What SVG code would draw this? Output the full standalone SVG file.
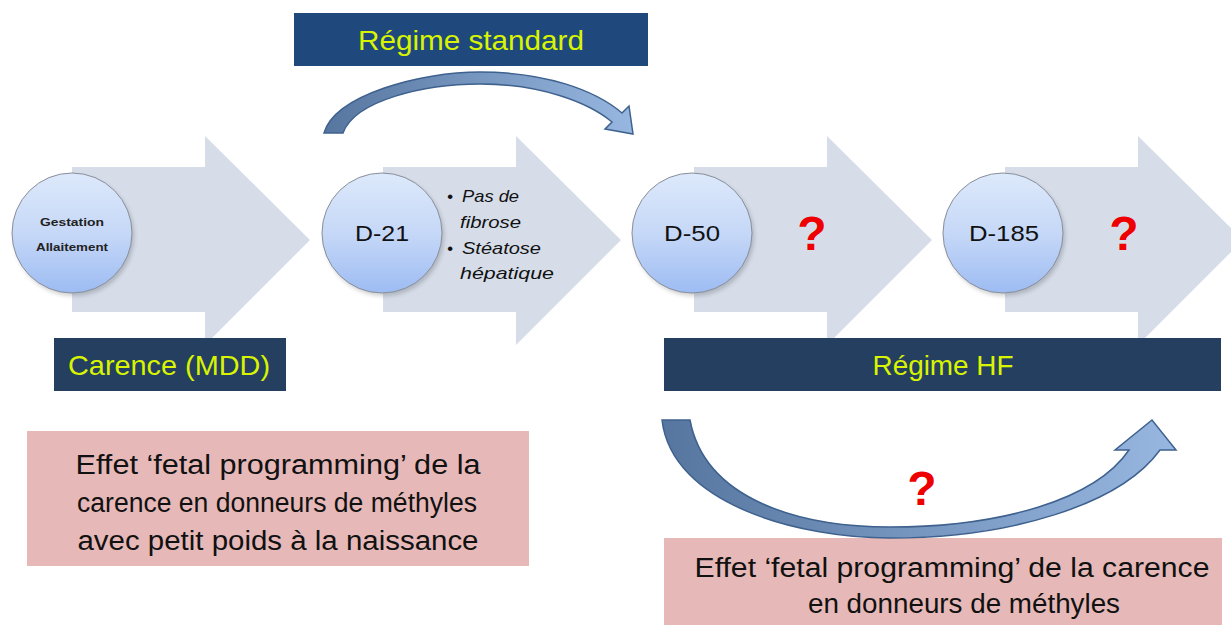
<svg xmlns="http://www.w3.org/2000/svg" width="1231" height="625" viewBox="0 0 1231 625">
<defs>
<style>
.big{fill:#d6dde9}
.circ{fill:url(#cg);stroke:#8a8f99;stroke-width:1}
.shadow{fill:#000;opacity:0.18}
.dark1{fill:#1f497d}
.dark2{fill:#243f60}
.pink{fill:#e6b9b8}
.ylw{font-family:"Liberation Sans",Arial,sans-serif;font-size:28px;fill:#d8f400;text-anchor:middle}
.blk{font-family:"Liberation Sans",Arial,sans-serif;font-size:27px;fill:#111;text-anchor:middle}
.lbl{font-family:"Liberation Sans",Arial,sans-serif;font-size:22px;fill:#111;text-anchor:middle}
.small{font-family:"Liberation Sans",Arial,sans-serif;font-size:11px;font-weight:bold;fill:#222;text-anchor:middle}
.it{font-family:"Liberation Sans",Arial,sans-serif;font-size:17px;font-style:italic;fill:#111}
.q{font-family:"Liberation Sans",Arial,sans-serif;font-size:48px;font-weight:bold;fill:#ee0000;text-anchor:middle}
.carrow{stroke:#3e618e;stroke-width:1.5;stroke-linejoin:miter}
</style>
<linearGradient id="cg" x1="0" y1="0" x2="0" y2="1">
<stop offset="0" stop-color="#dde9fb"/>
<stop offset="0.5" stop-color="#c6d8f7"/>
<stop offset="1" stop-color="#9dbcf3"/>
</linearGradient>
<linearGradient id="ag" x1="0" y1="0" x2="1" y2="0">
<stop offset="0" stop-color="#56769f"/>
<stop offset="1" stop-color="#97b7e1"/>
</linearGradient>
<filter id="sh" x="-20%" y="-20%" width="140%" height="140%">
<feGaussianBlur stdDeviation="2"/>
</filter>
</defs>

<g id="big-arrows">
<polygon class="big" points="72,167 205,167 205,136 310,240 205,345 205,312 72,312"/>
<polygon class="big" points="383,167 516,167 516,136 621,240 516,345 516,312 383,312"/>
<polygon class="big" points="694,167 827,167 827,136 932,240 827,345 827,312 694,312"/>
<polygon class="big" points="1005,167 1138,167 1138,136 1243,240 1138,345 1138,312 1005,312"/>
</g>

<g id="node-gestation">
<circle class="shadow" cx="74" cy="236" r="60" filter="url(#sh)"/>
<circle class="circ" cx="72" cy="233" r="60"/>
<text class="small" x="72" y="226" textLength="64" lengthAdjust="spacingAndGlyphs">Gestation</text>
<text class="small" x="72" y="251" textLength="72" lengthAdjust="spacingAndGlyphs">Allaitement</text>
</g>

<g id="node-d21">
<circle class="shadow" cx="384" cy="236" r="60" filter="url(#sh)"/>
<circle class="circ" cx="382" cy="233" r="60"/>
<text class="lbl" x="382" y="241" textLength="54" lengthAdjust="spacingAndGlyphs">D-21</text>
</g>

<g id="node-d21-notes">
<text class="it" x="447" y="202">•</text>
<text class="it" x="462" y="202" textLength="57" lengthAdjust="spacingAndGlyphs">Pas de</text>
<text class="it" x="460" y="228" textLength="61" lengthAdjust="spacingAndGlyphs">fibrose</text>
<text class="it" x="447" y="254">•</text>
<text class="it" x="462" y="254" textLength="79" lengthAdjust="spacingAndGlyphs">Stéatose</text>
<text class="it" x="460" y="279" textLength="94" lengthAdjust="spacingAndGlyphs">hépatique</text>
</g>

<g id="node-d50">
<circle class="shadow" cx="694" cy="236" r="60" filter="url(#sh)"/>
<circle class="circ" cx="692" cy="233" r="60"/>
<text class="lbl" x="692" y="241" textLength="56" lengthAdjust="spacingAndGlyphs">D-50</text>
<text class="q" x="812" y="250">?</text>
</g>

<g id="node-d185">
<circle class="shadow" cx="1005" cy="236" r="60" filter="url(#sh)"/>
<circle class="circ" cx="1003" cy="233" r="60"/>
<text class="lbl" x="1004" y="241" textLength="70" lengthAdjust="spacingAndGlyphs">D-185</text>
<text class="q" x="1124" y="250">?</text>
</g>

<g id="node-regime-standard">
<rect class="dark1" x="294" y="13" width="354" height="53"/>
<text class="ylw" x="471" y="50" textLength="226" lengthAdjust="spacingAndGlyphs">Régime standard</text>
</g>

<g id="node-carence">
<rect class="dark2" x="54" y="338" width="232" height="53"/>
<text class="ylw" x="169" y="375" textLength="202" lengthAdjust="spacingAndGlyphs">Carence (MDD)</text>
</g>

<g id="node-regime-hf">
<rect class="dark2" x="664" y="338" width="557" height="53"/>
<text class="ylw" x="943" y="375" textLength="141" lengthAdjust="spacingAndGlyphs">Régime HF</text>
</g>

<g id="node-effet1">
<rect class="pink" x="27" y="431" width="502" height="135"/>
<text class="blk" x="278" y="474" textLength="405" lengthAdjust="spacingAndGlyphs">Effet ‘fetal programming’ de la</text>
<text class="blk" x="277" y="512" textLength="400" lengthAdjust="spacingAndGlyphs">carence en donneurs de méthyles</text>
<text class="blk" x="278" y="550" textLength="401" lengthAdjust="spacingAndGlyphs">avec petit poids à la naissance</text>
</g>

<g id="node-effet2">
<rect class="pink" x="664" y="538" width="558" height="87"/>
<text class="blk" x="952" y="577" textLength="515" lengthAdjust="spacingAndGlyphs">Effet ‘fetal programming’ de la carence</text>
<text class="blk" x="964" y="613" textLength="312" lengthAdjust="spacingAndGlyphs">en donneurs de méthyles</text>
</g>

<g id="connectors">
<path class="carrow" fill="url(#ag)" d="M 324 133 C 335 95 420 72 480 72 C 545 72 595 90 622 113 L 629 106 L 633 134 L 605 129 L 612 122 C 588 102 540 84 480 84 C 425 84 355 100 343 133 Z"/>
<path class="carrow" fill="url(#ag)" d="M 662 420 C 672 505 800 538 890 538 C 1010 538 1120 505 1160 450 L 1176 450 L 1152 420 L 1115 450 L 1129 450 C 1095 500 1000 527 890 527 C 800 527 705 500 690 420 Z"/>
<text class="q" x="922" y="505">?</text>
</g>
</svg>
